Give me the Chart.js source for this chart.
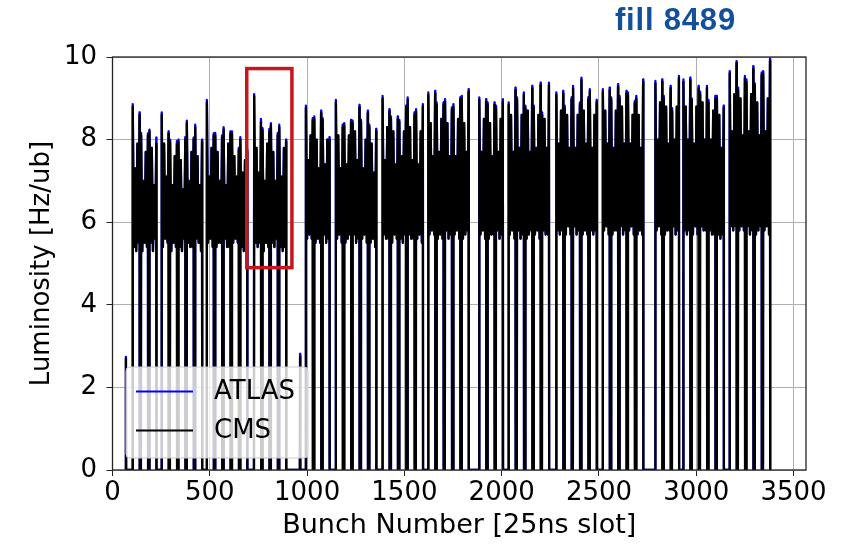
<!DOCTYPE html>
<html>
<head>
<meta charset="utf-8">
<script src="https://cdn.jsdelivr.net/npm/chart.js@4"></script>
<style>
html, body { margin: 0; padding: 0; background: #fff; }
#wrap { position: relative; width: 853px; height: 544px; }
#fill { position: absolute; left: 615px; top: 2px; font: bold 31px "Liberation Sans", Arial, sans-serif; color: #12509e; letter-spacing: 0.8px; }
</style>
</head>
<body>
<div id="wrap">
  <canvas id="lumi" width="853" height="544"></canvas>
  <div id="fill">fill 8489</div>
</div>
<script>
// filling scheme: first slot of each train and number of 36-bunch batches
const trainStart = [104, 253, 485, 728, 994, 1148, 1388, 1623, 1885, 2036, 2281, 2520, 2790, 2934, 3172];
const batchLen = 36;
const batchGap = 7;
const batchOffsets = [0, 6, 12, 18, 24, 30, 35];

// CMS per batch: head peak, then lows / highs along the batch, tail peak  [Hz/ub]
const cmsBatches = [
  [[8.8,5.4,7.3,5.3,7.9,5.5,8.6],[8.1,5.3,7.0,5.5,7.7,5.4,8.1],[8.2,5.5,7.8,5.3,6.9,5.6,7.9]],
  [[8.6,5.4,7.9,5.6,7.1,5.5,8.15],[7.95,5.3,6.9,5.5,7.6,5.4,7.9],[7.95,5.4,7.5,5.3,6.8,5.6,8.0],[8.4,5.5,7.0,5.4,7.7,5.4,8.0],[8.3,5.6,7.6,5.5,6.9,5.3,7.95]],
  [[8.9,5.5,7.1,5.6,7.8,5.4,8.1],[8.1,5.4,7.7,5.5,7.0,5.5,8.05],[8.25,5.6,6.9,5.4,7.9,5.4,8.15],[8.15,5.5,7.6,5.6,7.1,5.5,7.75],[8.0,5.4,7.2,5.3,7.5,5.4,7.7]],
  [[9.05,5.5,7.8,5.4,7.2,5.5,8.43],[8.23,5.3,7.0,5.5,7.9,5.4,8.2],[8.35,5.5,7.7,5.4,7.0,5.6,8.1],[8.3,5.4,7.1,5.3,7.8,5.4,7.95]],
  [[8.76,5.6,7.5,5.7,8.1,5.6,8.47],[8.5,5.5,8.0,5.6,7.3,5.5,8.64],[8.47,5.7,7.4,5.5,8.0,5.6,8.0]],
  [[8.9,5.6,8.1,5.7,7.3,5.5,8.3],[8.35,5.5,7.4,5.6,8.1,5.7,8.43],[8.4,5.7,8.2,5.5,7.5,5.6,8.78],[8.43,5.6,7.3,5.7,8.0,5.5,8.64],[8.3,5.5,7.9,5.6,7.2,5.4,8.2]],
  [[9.0,5.7,7.5,5.6,8.3,5.6,8.68],[8.5,5.5,8.2,5.7,7.4,5.6,8.5],[8.43,5.6,7.6,5.5,8.2,5.7,8.76],[8.96,5.7,8.3,5.6,7.5,5.6,8.6],[8.68,5.6,7.4,5.7,8.2,5.5,8.8]],
  [[9.08,5.7,8.4,5.8,7.6,5.7,9.12],[8.84,5.6,7.7,5.7,8.5,5.6,8.84],[8.92,5.8,8.4,5.6,7.6,5.7,8.72],[8.8,5.7,7.6,5.8,8.5,5.6,8.96],[9.0,5.6,8.4,5.7,7.7,5.8,9.16]],
  [[8.96,5.7,7.7,5.8,8.5,5.6,8.92],[8.84,5.6,8.4,5.7,7.6,5.7,8.84],[8.76,5.8,7.7,5.6,8.5,5.7,8.92]],
  [[8.84,5.7,8.6,5.8,7.7,5.6,9.2],[8.96,5.8,7.8,5.6,8.6,5.7,9.08],[8.76,5.6,8.7,5.7,7.7,5.8,9.24],[8.76,5.7,7.8,5.8,8.6,5.6,9.32],[8.6,5.8,8.5,5.7,7.8,5.7,9.32]],
  [[9.08,5.8,7.9,5.7,8.7,5.8,9.12],[8.76,5.7,8.6,5.9,7.8,5.7,8.96],[9.24,5.9,7.8,5.7,8.6,5.8,8.84],[9.44,5.7,8.7,5.8,7.9,5.7,8.96],[9.16,5.8,7.8,5.7,8.6,5.8,8.9]],
  [[9.16,5.8,8.7,5.9,7.9,5.7,9.2],[8.96,5.7,7.8,5.8,8.7,5.8,9.28],[9.0,5.9,8.8,5.7,7.9,5.8,9.12],[9.08,5.8,7.9,5.9,8.6,5.7,8.88],[9.0,5.7,8.6,5.8,7.8,5.7,9.4]],
  [[9.36,5.8,8.0,5.9,8.9,5.7,9.4],[9.0,5.7,8.8,5.8,7.9,5.8,9.24],[8.7,5.9,8.0,5.7,8.8,5.8,9.48]],
  [[9.4,5.8,8.8,5.7,8.0,5.8,9.44],[8.95,5.7,7.9,5.9,8.8,5.7,9.24],[9.1,5.9,8.9,5.8,8.0,5.8,9.24],[8.9,5.8,8.0,5.7,8.7,5.7,9.0],[9.0,5.7,8.6,5.6,7.8,5.7,8.76]],
  [[9.6,5.9,8.2,5.8,9.1,5.9,9.85],[9.2,5.8,9.0,5.9,8.1,5.8,9.48],[9.4,5.9,8.2,5.7,9.1,5.8,9.72],[9.3,5.7,8.9,5.8,8.1,5.9,9.56],[9.6,5.8,8.2,5.9,9.0,5.7,9.9]]
];

// ATLAS head / tail peaks per batch (blue tips above CMS)
const atlasPeaks = [
  [[8.86,8.66],[8.16,8.15],[8.24,8.05]],
  [[8.66,8.2],[8.0,7.96],[8.0,8.06],[8.46,8.05],[8.36,8.0]],
  [[8.96,8.15],[8.16,8.1],[8.3,8.2],[8.2,7.8],[8.06,7.76]],
  [[9.1,8.5],[8.28,8.26],[8.4,8.16],[8.36,8.0]],
  [[8.82,8.52],[8.56,8.7],[8.52,8.06]],
  [[8.96,8.36],[8.4,8.48],[8.46,8.84],[8.48,8.7],[8.36,8.26]],
  [[9.06,8.74],[8.56,8.56],[8.48,8.82],[9.02,8.66],[8.74,8.86]],
  [[9.14,9.18],[8.9,8.9],[8.98,8.78],[8.86,9.02],[9.06,9.22]],
  [[9.02,8.98],[8.9,8.9],[8.82,8.98]],
  [[8.9,9.26],[9.02,9.14],[8.82,9.3],[8.82,9.38],[8.66,9.38]],
  [[9.14,9.18],[8.82,9.02],[9.3,8.9],[9.5,9.02],[9.22,8.96]],
  [[9.22,9.26],[9.02,9.34],[9.06,9.18],[9.14,8.94],[9.06,9.46]],
  [[9.42,9.46],[9.06,9.3],[8.76,9.54]],
  [[9.46,9.5],[9.0,9.3],[9.16,9.3],[8.96,9.06],[9.06,8.82]],
  [[9.66,9.9],[9.26,9.54],[9.46,9.78],[9.36,9.62],[9.66,9.96]]
];

// non-colliding pilot bunches
const pilotSlot = [69, 964];
const pilotCms = [2.7, 2.75];
const pilotAtlas = [2.74, 2.81];

const nSlots = 3564;
const xTicks = [0, 500, 1000, 1500, 2000, 2500, 3000, 3500];
const yTicks = [0, 2, 4, 6, 8, 10];

function buildSeries(useAtlas) {
  const pts = [];
  pilotSlot.forEach((p, i) => {
    pts.push({x: p - 1, y: 0}, {x: p, y: useAtlas ? pilotAtlas[i] : pilotCms[i]}, {x: p + 1, y: 0});
  });
  trainStart.forEach((s0, t) => {
    cmsBatches[t].forEach((vals, b) => {
      const s = s0 + b * (batchLen + batchGap);
      pts.push({x: s - 1, y: 0});
      vals.forEach((v, k) => {
        let y = v;
        if (useAtlas && k === 0) y = atlasPeaks[t][b][0];
        if (useAtlas && k === vals.length - 1) y = atlasPeaks[t][b][1];
        pts.push({x: s + batchOffsets[k], y: y});
      });
      pts.push({x: s + batchLen, y: 0});
    });
  });
  pts.sort((a, b) => a.x - b.x);
  return pts;
}

const highlight = {x0: 690, x1: 922, y0: 4.9, y1: 9.72};

const framePlugin = {
  id: 'frame',
  afterDatasetsDraw(chart) {
    const {ctx, chartArea: a, scales} = chart;
    const x = scales.x, y = scales.y;
    ctx.save();
    // red highlight box
    ctx.strokeStyle = '#c8161d';
    ctx.lineWidth = 3.5;
    ctx.strokeRect(x.getPixelForValue(highlight.x0), y.getPixelForValue(highlight.y1),
      x.getPixelForValue(highlight.x1) - x.getPixelForValue(highlight.x0),
      y.getPixelForValue(highlight.y0) - y.getPixelForValue(highlight.y1));
    // axes frame
    ctx.strokeStyle = '#222';
    ctx.lineWidth = 1.3;
    ctx.strokeRect(a.left, a.top, a.right - a.left, a.bottom - a.top);
    // legend
    const lx = a.left + 13.5, ly = a.bottom - 103, lw = 182, lh = 91;
    ctx.beginPath();
    ctx.roundRect(lx, ly, lw, lh, 4);
    ctx.fillStyle = 'rgba(255,255,255,0.8)';
    ctx.fill();
    ctx.strokeStyle = '#cccccc';
    ctx.lineWidth = 1;
    ctx.stroke();
    const items = [['ATLAS', '#0000ff'], ['CMS', '#000000']];
    ctx.font = '26px "DejaVu Sans"';
    ctx.textBaseline = 'middle';
    items.forEach((it, i) => {
      const cy = ly + 24.5 + i * 39;
      ctx.strokeStyle = it[1];
      ctx.lineWidth = 2;
      ctx.beginPath();
      ctx.moveTo(lx + 10, cy);
      ctx.lineTo(lx + 67, cy);
      ctx.stroke();
      ctx.fillStyle = '#000';
      ctx.fillText(it[0], lx + 88, cy + 1);
    });
    ctx.restore();
  }
};

const tickFont = {family: 'DejaVu Sans', size: 26};

new Chart(document.getElementById('lumi'), {
  type: 'line',
  data: {
    datasets: [
      {label: 'ATLAS', data: buildSeries(true), borderColor: '#0000ff', order: 1},
      {label: 'CMS', data: buildSeries(false), borderColor: '#000000', order: 0}
    ]
  },
  options: {
    responsive: false,
    animation: false,
    parsing: false,
    normalized: true,
    elements: {
      line: {borderWidth: 2.3, tension: 0, borderJoinStyle: 'round', fill: false},
      point: {radius: 0}
    },
    layout: {padding: {left: 0, right: 47, top: 57, bottom: 0}},
    plugins: {legend: {display: false}, tooltip: {enabled: false}},
    scales: {
      x: {
        type: 'linear',
        min: 0,
        max: nSlots,
        afterFit: s => { s.height = 74; },
        afterBuildTicks: s => { s.ticks = xTicks.map(v => ({value: v})); },
        ticks: {font: tickFont, color: '#000', padding: 2, maxRotation: 0, callback: v => String(v)},
        grid: {color: '#b0b0b0', lineWidth: 1, tickLength: 6, tickColor: '#222'},
        border: {display: false},
        title: {display: true, text: 'Bunch Number [25ns slot]', font: {family: 'DejaVu Sans', size: 27}, color: '#000', padding: {top: 0, bottom: 2}}
      },
      y: {
        min: 0,
        max: 10,
        afterFit: s => { s.width = 112.5; },
        afterBuildTicks: s => { s.ticks = yTicks.map(v => ({value: v})); },
        ticks: {font: tickFont, color: '#000', padding: 9.5, callback: v => String(v)},
        grid: {color: '#b0b0b0', lineWidth: 1, tickLength: 6, tickColor: '#222'},
        border: {display: false},
        title: {display: true, text: 'Luminosity [Hz/ub]', font: {family: 'DejaVu Sans', size: 26}, color: '#000', padding: {top: 27, bottom: 0}}
      }
    }
  },
  plugins: [framePlugin]
});
</script>
</body>
</html>
